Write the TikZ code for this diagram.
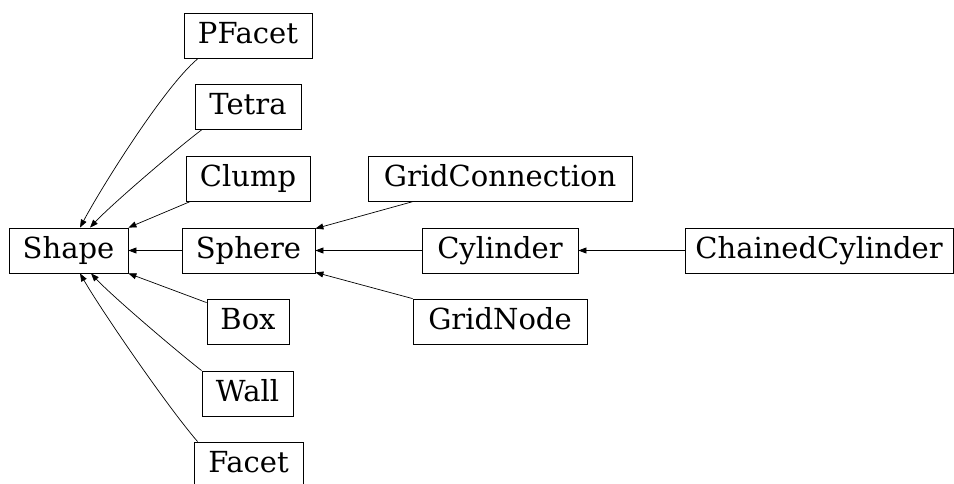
\documentclass[tikz,border=0pt]{standalone}
\usepackage{fontspec}
\setmainfont{DejaVu Serif}
\usetikzlibrary{arrows.meta}

\begin{document}
\begin{tikzpicture}[x=1pt,y=1pt,
  font=\fontsize{29}{34}\selectfont,
  cls/.style={draw=black,line width=0.8pt,inner sep=0pt,minimum height=45pt,
    text height=22pt,text depth=7pt},
  ar/.style={-{Triangle[length=8pt,width=6pt]},line width=0.7pt}
]
\useasboundingbox (0,0) rectangle (954,483);

% base class and its direct children
\node[cls,minimum width=119pt] (shape) at (68.5,232.5) {Shape};
\node[cls,minimum width=128pt] (pfacet) at (248,447) {PFacet};
\node[cls,minimum width=106pt] (tetra) at (248,376) {Tetra};
\node[cls,minimum width=124pt] (clump) at (248,304.5) {Clump};
\node[cls,minimum width=133pt] (sphere) at (248.5,232.5) {Sphere};
\node[cls,minimum width=82pt] (box) at (248,161.5) {Box};
\node[cls,minimum width=91pt] (wall) at (247.5,89.5) {Wall};
\node[cls,minimum width=109pt] (facet) at (248.5,18.5) {Facet};

% sphere subclasses
\node[cls,minimum width=264pt] (gridconn) at (500,304.5) {GridConnection};
\node[cls,minimum width=156pt] (cylinder) at (500,232.5) {Cylinder};
\node[cls,minimum width=174pt] (gridnode) at (500,161.5) {GridNode};
\node[cls,minimum width=268pt] (chained) at (819,232.5) {ChainedCylinder};

\draw[ar] ([xshift=14pt]pfacet.south west) to[out=220,in=62,looseness=0.55] ([xshift=11.5pt]shape.north);
\draw[ar] ([xshift=7pt]tetra.south west) to[out=217,in=47,looseness=0.55] ([xshift=21.5pt]shape.north);
\draw[ar] ([xshift=5pt]clump.south west) -- (shape.north east);
\draw[ar] (sphere) -- (shape);
\draw[ar] ([yshift=-4pt]box.north west) -- (shape.south east);
\draw[ar] (wall.north west) to[out=142,in=-47,looseness=0.55] ([xshift=22.5pt]shape.south);
\draw[ar] ([xshift=4pt]facet.north west) to[out=131,in=-60,looseness=0.55] ([xshift=11.5pt]shape.south);

\draw[ar] ([xshift=46pt]gridconn.south west) -- ([yshift=-1pt]sphere.north east);
\draw[ar] (cylinder) -- (sphere);
\draw[ar] (gridnode.north west) -- ([yshift=1pt]sphere.south east);
\draw[ar] (chained) -- (cylinder);

\end{tikzpicture}
\end{document}
